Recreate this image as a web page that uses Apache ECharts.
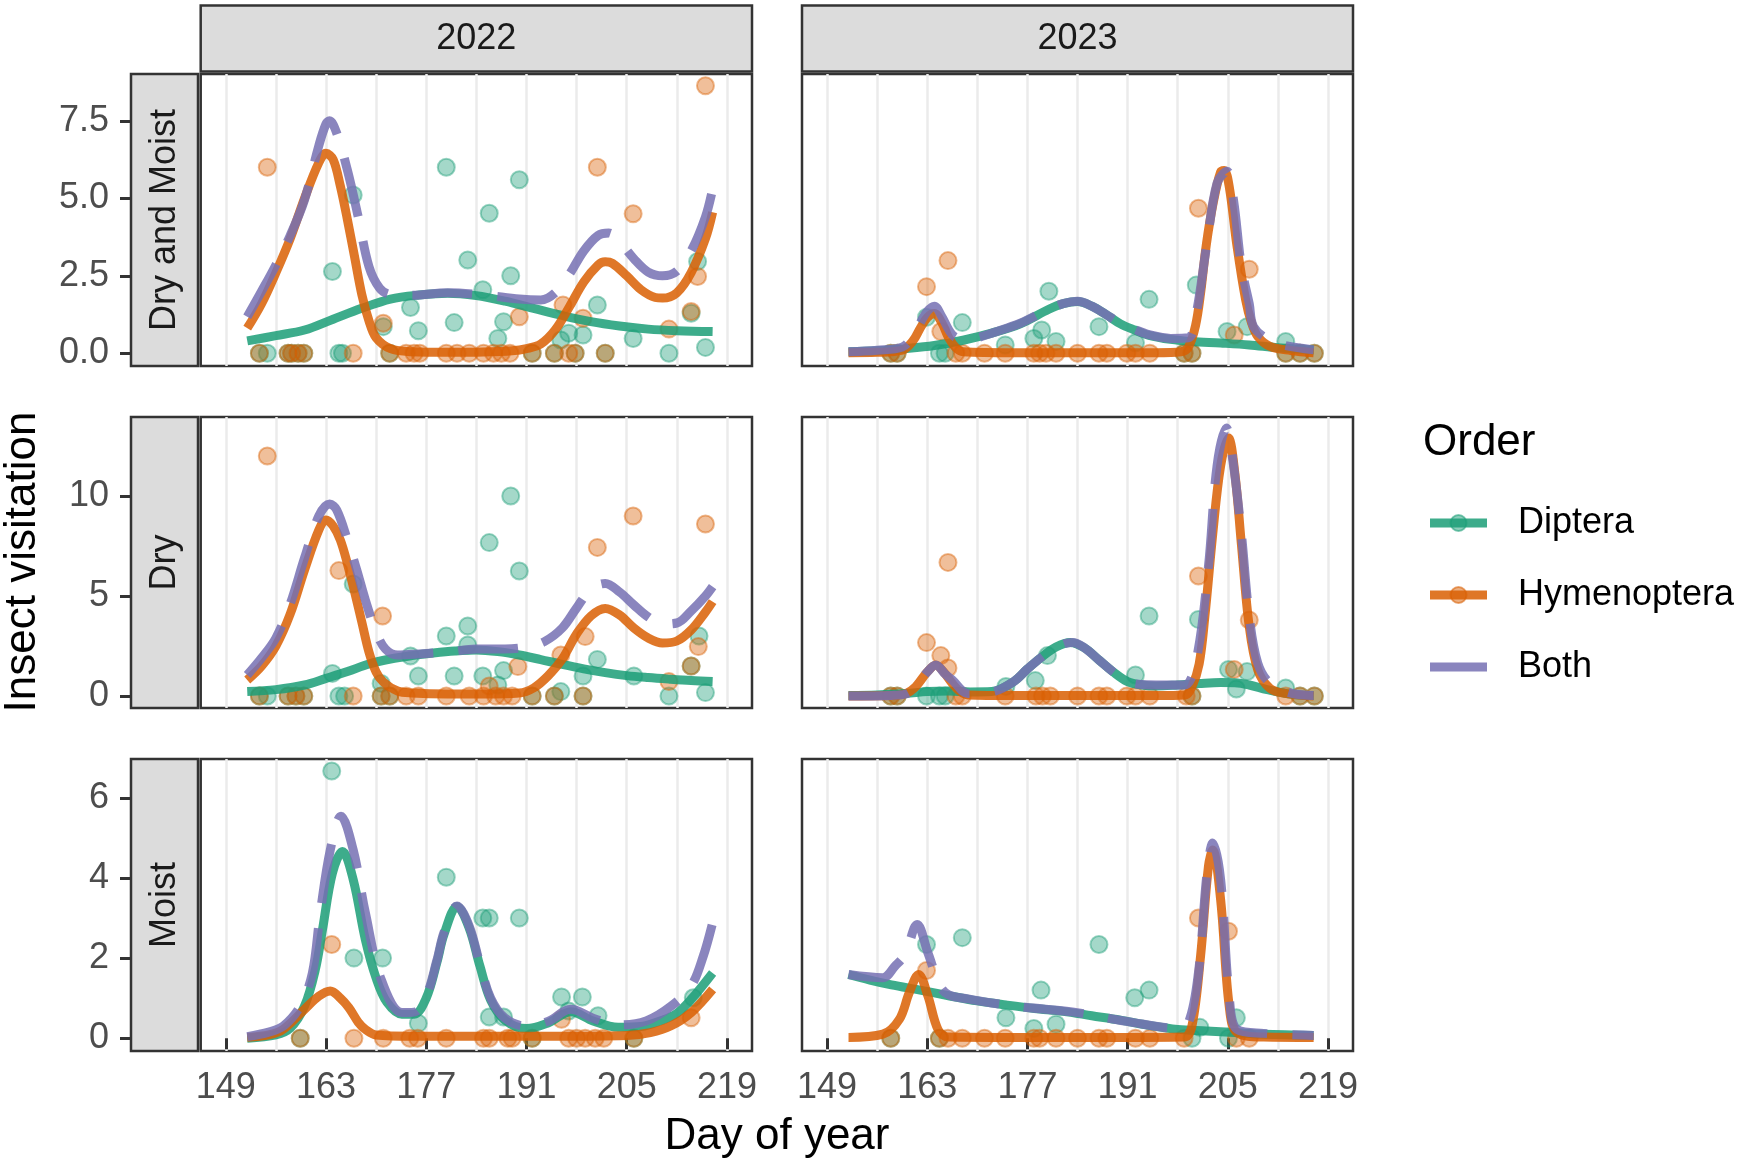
<!DOCTYPE html>
<html><head><meta charset="utf-8">
<script src="https://cdn.jsdelivr.net/npm/echarts@6.0.0/dist/echarts.min.js"></script>
<style>html,body{margin:0;padding:0;background:#fff}#c{width:1739px;height:1161px}</style>
</head><body><div id="c"></div>
<script>
// ---------------- DATA ----------------
const years = ['2022', '2023'];
const habitats = ['Dry and Moist', 'Dry', 'Moist'];
const orders = ['Diptera', 'Hymenoptera', 'Both'];
const xTicks = [149, 163, 177, 191, 205, 219];
const xGridVals = [149, 156, 163, 170, 177, 184, 191, 198, 205, 212, 219];
const yTicksDM = [0, 2.5, 5, 7.5];
const yTicksDry = [0, 5, 10];
const yTicksMoist = [0, 2, 4, 6];

// 2022 Dry and Moist
const dipPts22DM = [[153.7,0],[154.8,0],[157.7,0],[158.2,0],[159.1,0],[159.9,0],[164.8,0],[165.3,0],[171.9,0],[191.8,0],[194.9,0],[197.8,0],[202,0],[210.9,0],
  [163.9,2.64],[166.8,5.11],[171,0.86],[174.8,1.48],[175.9,0.73],[179.8,6.0],[180.9,0.99],[182.8,3.01],[184.9,2.05],[185.8,4.52],[187,0.48],[187.8,1.02],[188.8,2.5],[190,5.6],[195.8,0.43],[196.9,0.65],[198.9,0.59],[200.9,1.56],[205.9,0.48],[214,1.29],[214.9,2.96],[216,0.19]];
const hymPts22DM = [[153.7,0],[157.7,0],[158.2,0],[159.1,0],[159.9,0],[166.8,0],[171.9,0],[174.2,0],[175.3,0],[176.1,0],[179.8,0],[181.3,0],[183,0],[185,0],[186.4,0],[187.5,0],[188.7,0],[191.8,0],[194.9,0],[196.9,0],[197.8,0],[202,0],
  [154.8,6.0],[200.9,6.0],[205.9,4.5],[216,8.63],[214.9,2.48],[214,1.35],[210.9,0.78],[196.1,1.56],[190,1.18],[198.9,1.13],[171,0.97]];
const dipLine22DM = [[152,0.4],[156,0.57],[160,0.75],[164,1.1],[168,1.45],[172,1.75],[176,1.88],[180,1.94],[184,1.86],[188,1.68],[192,1.45],[196,1.22],[200,1.02],[204,0.88],[208,0.78],[212,0.73],[217,0.7]];
const hymLine22DM = [[152,0.81],[154,1.6],[156,2.6],[158,3.7],[160,5.0],[162,6.15],[163,6.45],[164,6.25],[165,5.4],[166,4.3],[167,3.1],[168,1.9],[169,1.05],[170,0.5],[172,0.15],[175,0.05],[180,0.03],[185,0.04],[189,0.08],[191,0.15],[193,0.3],[195,0.75],[197,1.5],[199,2.3],[201,2.85],[202,2.95],[203,2.9],[205,2.5],[207,2.05],[209,1.8],[210,1.78],[212,1.95],[214,2.6],[216,3.7],[217,4.55]];
const bothLine22DM = [[152,1.18],[154,2.0],[156,2.85],[158,3.8],[160,4.95],[162,6.7],[163,7.4],[163.5,7.5],[164.5,7.1],[166,5.9],[167.5,4.4],[169,2.8],[170.5,2.1],[172,1.9],[175,1.87],[180,1.95],[185,1.88],[190,1.75],[193,1.72],[195,1.95],[197,2.55],[199,3.3],[201,3.8],[202.5,3.88],[204,3.6],[206,3.05],[208,2.62],[210,2.5],[212,2.65],[214,3.3],[216,4.4],[217,5.3]];

// 2023 Dry and Moist
const dipPts23DM = [[157.9,0],[158.8,0],[164.7,0],[165.5,0],[198.9,0],[200,0],[213.1,0],[215.1,0],[217.1,0],
  [162.9,1.16],[167.9,0.99],[180,2.0],[194,1.74],[187,0.86],[179,0.75],[177.9,0.48],[181,0.38],[173.9,0.27],[200.6,2.2],[204.9,0.7],[207.7,0.86],[213.1,0.38],[192.1,0.34]];
const hymPts23DM = [[157.9,0],[158.8,0],[167,0],[167.9,0],[171,0],[173.9,0],[177.9,0],[178.7,0],[179.6,0],[181,0],[184,0],[187,0],[188.1,0],[190.9,0],[192.1,0],[194.1,0],[198.9,0],[200,0],[213.1,0],[215.1,0],[217.1,0],
  [162.9,2.15],[165.9,2.99],[164.9,0.7],[200.9,4.68],[208,2.71],[205.9,0.59]];
const dipLine23DM = [[152,0.05],[156,0.08],[160,0.15],[164,0.25],[168,0.42],[172,0.65],[176,0.95],[180,1.42],[182,1.6],[184,1.67],[186,1.52],[188,1.25],[190,0.95],[192,0.75],[194,0.58],[197,0.45],[200,0.38],[204,0.33],[208,0.27],[212,0.18],[217,0.11]];
const hymLine23DM = [[152,0.02],[156,0.03],[159.5,0.1],[161,0.4],[162,0.8],[163,1.15],[164,1.28],[165,1.0],[166,0.5],[167,0.18],[168,0.05],[175,0.02],[185,0.02],[195,0.02],[198.5,0.05],[199.5,0.2],[200.5,0.9],[201.2,1.94],[202,3.5],[203,4.9],[204,5.85],[204.5,5.9],[205.2,5.38],[206.3,3.44],[207.5,1.72],[208.3,1.0],[209.2,0.54],[210.9,0.22],[213.8,0.09],[217,0.02]];
const bothLine23DM = [[152,0.05],[156,0.1],[159.5,0.2],[161,0.55],[162,0.97],[163,1.35],[164,1.52],[165,1.2],[166.5,0.6],[168,0.45],[170,0.5],[172,0.65],[176,0.97],[180,1.42],[182,1.6],[184,1.68],[186,1.52],[188,1.25],[190,0.97],[192,0.77],[194,0.6],[197,0.48],[199.5,0.5],[200.6,1.29],[202,3.4],[203.5,5.49],[204.9,5.87],[205.8,4.95],[206.9,2.8],[208,1.6],[208.6,0.86],[210.9,0.4],[213,0.25],[217,0.11]];

// 2022 Dry
const dipPts22D = [[153.7,0],[154.8,0],[157.7,0],[158.8,0],[159.9,0],[164.8,0],[165.6,0],[170.7,0],[171.9,0],[191.8,0],[194.9,0],[198.9,0],[210.9,0],
  [166.8,5.6],[188.8,10.0],[185.8,7.67],[190,6.25],[182.8,3.5],[179.8,3.0],[182.8,2.55],[174.8,2.0],[175.9,1.0],[180.9,1.0],[184.9,1.0],[187.8,1.27],[187,0.55],[163.9,1.13],[170.7,0.63],[200.9,1.83],[198.9,1.0],[206,1.0],[195.8,0.22],[215.1,3.0],[216,0.17],[214,1.5]];
const hymPts22D = [[153.7,0],[157.7,0],[158.8,0],[159.9,0],[166.8,0],[170.7,0],[171.9,0],[174.2,0],[175.9,0],[179.8,0],[183,0],[185,0],[186.7,0],[187.8,0],[189,0],[191.8,0],[194.9,0],[198.9,0],
  [154.8,12.0],[164.8,6.27],[170.9,4.0],[200.9,7.43],[205.9,9.0],[216,8.6],[199.2,2.97],[195.8,2.05],[189.8,1.47],[215,2.47],[214,1.5],[210.9,0.72],[185.8,0.5]];
const dipLine22D = [[152,0.22],[156,0.32],[160,0.55],[163,0.88],[166,1.22],[169,1.6],[172,1.85],[175,2.02],[178,2.15],[181,2.25],[184,2.3],[187,2.22],[190,2.05],[193,1.82],[196,1.58],[199,1.36],[202,1.17],[205,1.02],[208,0.92],[211,0.84],[214,0.77],[217,0.72]];
const hymLine22D = [[152,0.8],[154,1.5],[156,2.5],[158,4.1],[160,6.3],[162,8.3],[163,8.8],[164,8.5],[165,7.8],[166,6.6],[167,5.2],[168,3.7],[169,2.2],[170,1.2],[171,0.7],[173,0.25],[175,0.15],[180,0.1],[185,0.1],[190,0.15],[192,0.4],[194,1.0],[196,1.85],[198,3.1],[200,4.0],[202,4.38],[204,4.05],[206,3.4],[208,2.9],[210,2.65],[212,2.75],[214,3.3],[216,4.2],[217,4.72]];
const bothLine22D = [[152,1.05],[154,1.9],[156,2.9],[158,4.6],[160,6.9],[162,9.0],[163.5,9.6],[164.5,9.3],[166,7.8],[167.3,6.3],[168.5,4.8],[170,3.2],[171.3,2.35],[173,2.05],[176,2.1],[180,2.2],[184,2.35],[188,2.35],[191,2.45],[193.5,2.72],[196,3.4],[198,4.4],[200,5.35],[202,5.63],[204,5.2],[206,4.55],[208,3.95],[210,3.6],[212,3.65],[214,4.25],[216,5.0],[217,5.47]];

// 2023 Dry
const dipPts23D = [[157.9,0],[158.8,0],[162.9,0],[164.7,0],[165.5,0],[200,0],[215.1,0],[217.1,0],
  [194,4.0],[200.9,3.83],[179.8,2.02],[178.1,0.77],[192.1,1.05],[205.1,1.33],[207.7,1.22],[206.2,0.35],[174,0.48],[213.1,0.4]];
const hymPts23D = [[157.9,0],[158.8,0],[167,0],[167.9,0],[173.9,0],[178.2,0],[179.1,0],[180.2,0],[184,0],[187,0],[188.1,0],[190.9,0],[192.1,0],[194.1,0],[199.2,0],[200,0],[213.1,0],[215.1,0],[217.1,0],
  [162.9,2.67],[164.9,2.02],[165.9,6.68],[165.9,1.4],[200.9,6.0],[208,3.8],[205.9,1.33]];
const dipLine23D = [[152,0.02],[156,0.05],[160,0.12],[163,0.22],[166,0.25],[169,0.2],[172,0.22],[175,0.7],[177,1.35],[179,1.95],[181,2.45],[183,2.68],[185,2.4],[187,1.8],[189,1.2],[191,0.72],[193,0.55],[195,0.5],[198,0.55],[201,0.62],[204,0.67],[206,0.66],[208,0.55],[210.5,0.32],[214,0.08],[217,0.03]];
const hymLine23D = [[152,0.0],[158,0.02],[160,0.12],[161.4,0.47],[163,1.2],[164.2,1.55],[165.3,1.2],[166.5,0.63],[167.5,0.25],[168.7,0.05],[175,0.02],[185,0.02],[195,0.02],[199,0.05],[200,0.47],[201,1.6],[201.8,3.97],[202.9,8.1],[204,11.5],[205.1,12.9],[206,11.1],[206.9,7.6],[208,3.47],[209.2,1.3],[210.9,0.38],[213,0.13],[217,0.0]];
const bothLine23D = [[152,0.0],[158,0.03],[160,0.1],[161.6,0.55],[163,1.2],[164.2,1.55],[165.5,1.1],[166.5,0.8],[168.7,0.13],[172,0.2],[175,0.7],[177,1.35],[179,1.95],[181,2.45],[183.3,2.68],[185,2.4],[187,1.8],[189,1.2],[191,0.72],[193,0.57],[195,0.55],[198.9,0.55],[200.6,1.8],[202.3,6.47],[203.5,11.5],[204.8,13.4],[205.7,11.8],[206.9,8.13],[208,3.97],[209.2,1.63],[210.9,0.63],[214,0.13],[217,0.03]];

// 2022 Moist
const dipPts22M = [[159.4,0],[191.8,0],[206,0],
  [163.8,6.67],[179.8,4.02],[184.9,3.0],[185.8,3.0],[190,3.0],[166.9,2.0],[170.9,2.0],[175.9,0.37],[195.9,1.03],[198.8,1.03],[185.8,0.53],[187.8,0.53],[201,0.56],[196.9,0.68],[214.3,1.01]];
const hymPts22M = [[159.4,0],[166.9,0],[171,0],[174.7,0],[175.8,0],[179.8,0],[185,0],[185.8,0],[188.4,0],[189,0],[191.8,0],[196.9,0],[198,0],[199.2,0],[200.6,0],[201.8,0],[206,0],
  [163.8,2.34],[195.9,0.47],[214,0.51]];
const dipLine22M = [[152,0.0],[156,0.08],[158,0.25],[160,0.8],[161.5,1.7],[162.5,2.7],[163.9,4.12],[165.3,4.66],[166.8,3.96],[168.5,2.46],[170,1.5],[171.5,0.9],[173.6,0.6],[175.3,0.6],[177,1.0],[178.5,1.9],[179.5,2.6],[181.3,3.29],[183,2.75],[184.5,1.8],[186,0.95],[188,0.45],[191,0.24],[194,0.38],[197.2,0.66],[200.3,0.43],[203.8,0.27],[207,0.29],[210,0.45],[212,0.62],[214,0.97],[217,1.63]];
const hymLine22M = [[152,0.02],[155,0.08],[157,0.22],[160,0.72],[162,1.05],[163.6,1.18],[165,1.0],[166.2,0.76],[167.5,0.4],[168.5,0.22],[170,0.08],[175,0.05],[185,0.05],[195,0.05],[205,0.07],[208.3,0.14],[211.2,0.31],[214,0.64],[217,1.22]];
const bothLine22M = [[152,0.04],[155,0.15],[157.1,0.31],[159.4,0.8],[161.1,1.63],[162.2,3.13],[163.6,4.7],[165.1,5.54],[166.8,4.7],[168.5,3.13],[170.7,1.47],[173.6,0.64],[175.3,0.65],[177,1.05],[178.5,1.95],[179.5,2.65],[181.3,3.3],[183,2.8],[184.5,1.85],[186,1.0],[188,0.5],[191,0.3],[194,0.42],[197.2,0.72],[200.3,0.5],[203.8,0.33],[207.7,0.43],[211.2,0.8],[214,1.3],[215.7,2.05],[217,2.88]];

// 2023 Moist
const dipPts23M = [[157.9,0],[164.7,0],[200,0],[205.1,0],
  [162.9,2.34],[167.9,2.51],[187,2.34],[178.9,1.2],[194,1.2],[192,1.01],[174,0.51],[181,0.35],[177.9,0.24],[206.2,0.51],[201.1,0.27]];
const hymPts23M = [[157.9,0],[164.7,0],[165.9,0],[167.9,0],[171,0],[173.9,0],[177.9,0],[178.7,0],[181,0],[184,0],[187,0],[188.1,0],[192.1,0],[194.1,0],[198.9,0],[206.2,0],[208,0],
  [162.9,1.69],[200.9,3.0],[205.1,2.67]];
const dipLine23M = [[152,1.59],[155,1.45],[158,1.33],[162,1.2],[166,1.06],[170,0.93],[174,0.83],[178,0.74],[182,0.67],[186,0.56],[190,0.45],[194,0.32],[198,0.22],[202,0.18],[206,0.14],[210,0.1],[217,0.07]];
const hymLine23M = [[152,0.02],[156.8,0.1],[159.1,0.47],[160.5,1.14],[161.8,1.59],[163.1,1.05],[164.5,0.22],[165.9,0.03],[175,0.02],[190,0.02],[198.9,0.03],[200,0.31],[201.2,2.05],[202.3,4.29],[202.9,4.7],[204,3.46],[205.2,0.8],[206.3,0.14],[210,0.03],[217,0.02]];
const bothLine23M = [[152,1.59],[156.8,1.51],[158.5,1.8],[159.9,2.09],[161.6,2.84],[163.1,2.13],[164.8,1.3],[166,1.08],[168.7,0.98],[172,0.88],[176.7,0.77],[183.5,0.65],[191.5,0.4],[197.8,0.25],[199.5,0.39],[200.9,1.63],[202.1,4.12],[202.9,4.87],[204,3.96],[205.2,1.05],[206.3,0.22],[210,0.12],[217,0.07]];

// ---------------- LAYOUT / STYLE ----------------
const FONT = 'Liberation Sans, Arial, sans-serif';
const cols = [{ left: 200.7, width: 551.3 }, { left: 802, width: 551 }];
const rows = [{ top: 74, height: 292 }, { top: 417, height: 291 }, { top: 759, height: 292 }];
const yRanges = [[-0.41, 9.01], [-0.6, 13.95], [-0.32, 6.97]];
const yTickSets = [yTicksDM, yTicksDry, yTicksMoist];
const yFmt = [v => v.toFixed(1), v => String(v), v => String(v)];
const COL = { dip: [27, 158, 119], hym: [217, 95, 2], both: [117, 112, 179] };
const rgba = (c, a) => `rgba(${c[0]},${c[1]},${c[2]},${a})`;
const LINE_W = 9;
const PT_SIZE = 17;

const panels = [
  [dipPts22DM, hymPts22DM, dipLine22DM, hymLine22DM, bothLine22DM],
  [dipPts23DM, hymPts23DM, dipLine23DM, hymLine23DM, bothLine23DM],
  [dipPts22D, hymPts22D, dipLine22D, hymLine22D, bothLine22D],
  [dipPts23D, hymPts23D, dipLine23D, hymLine23D, bothLine23D],
  [dipPts22M, hymPts22M, dipLine22M, hymLine22M, bothLine22M],
  [dipPts23M, hymPts23M, dipLine23M, hymLine23M, bothLine23M]
];

const grid = [], xAxis = [], yAxis = [], series = [], graphic = [];

for (let r = 0; r < 3; r++) {
  for (let c = 0; c < 2; c++) {
    const g = r * 2 + c;
    grid.push({ left: cols[c].left, top: rows[r].top, width: cols[c].width, height: rows[r].height,
      show: true, borderColor: '#333333', borderWidth: 2.5, backgroundColor: 'transparent', containLabel: false });
    xAxis.push({ gridIndex: g, type: 'value', min: 145.5, max: 222.5, position: 'bottom',
      axisLine: { show: false },
      axisTick: { show: r === 2, customValues: xTicks, length: 11, lineStyle: { color: '#333333', width: 3 } },
      axisLabel: { show: r === 2, customValues: xTicks, margin: 19, fontSize: 36, color: '#4D4D4D', fontFamily: FONT },
      splitLine: { show: false } });
    xAxis.push({ gridIndex: g, type: 'value', min: 145.5, max: 222.5, position: 'top',
      axisLine: { show: false }, axisTick: { show: false, customValues: xGridVals },
      axisLabel: { show: false, customValues: xGridVals },
      splitLine: { show: true, lineStyle: { color: '#EBEBEB', width: 2.5 } } });
    yAxis.push({ gridIndex: g, type: 'value', min: yRanges[r][0], max: yRanges[r][1], position: 'left',
      offset: c === 0 ? (cols[0].left - 131) : 0,
      axisLine: { show: false },
      axisTick: { show: c === 0, customValues: yTickSets[r], length: 11, lineStyle: { color: '#333333', width: 3 } },
      axisLabel: { show: c === 0, customValues: yTickSets[r], formatter: yFmt[r], margin: 22, fontSize: 36, color: '#4D4D4D', fontFamily: FONT },
      splitLine: { show: false } });

    const [dp, hp, dl, hl, bl] = panels[g];
    const xi = g * 2;
    const pt = (data, col, name) => ({ type: 'scatter', name, xAxisIndex: xi, yAxisIndex: g, data, symbol: 'circle', symbolSize: PT_SIZE, z: 2,
      itemStyle: { color: rgba(col, 0.5), borderColor: rgba(col, 0.55), borderWidth: 2 } });
    const ln = (data, col, name, dash) => ({ type: 'line', name, xAxisIndex: xi, yAxisIndex: g, data, showSymbol: false, symbol: 'none', smooth: 0.35, z: 3,
      lineStyle: { color: rgba(col, 0.85), width: LINE_W, type: dash ? [60, 25] : 'solid', cap: 'butt', join: 'round' } });
    series.push(pt(dp, COL.dip, 'Diptera'));
    series.push(pt(hp, COL.hym, 'Hymenoptera'));
    series.push(ln(dl, COL.dip, 'Diptera'));
    series.push(ln(hl, COL.hym, 'Hymenoptera'));
    series.push(ln(bl, COL.both, 'Both', true));
  }
}

const txt = (text, x, y, size, fill, opts = {}) => Object.assign({
  type: 'text', x, y, silent: true,
  style: { text, fontSize: size, fontFamily: FONT, fill, align: opts.align || 'center', verticalAlign: 'middle',
    textAlign: opts.align || 'center', textVerticalAlign: 'middle' }
}, opts.rotation ? { rotation: opts.rotation } : {});

// column strips
for (let c = 0; c < 2; c++) {
  graphic.push({ type: 'rect', shape: { x: cols[c].left, y: 5.5, width: cols[c].width, height: 66 },
    style: { fill: '#DCDCDC', stroke: '#333333', lineWidth: 2.5 }, silent: true });
  graphic.push(txt(years[c], cols[c].left + cols[c].width / 2, 39, 36, '#1A1A1A'));
}
// row strips
for (let r = 0; r < 3; r++) {
  graphic.push({ type: 'rect', shape: { x: 131, y: rows[r].top, width: 67, height: rows[r].height },
    style: { fill: '#DCDCDC', stroke: '#333333', lineWidth: 2.5 }, silent: true });
  graphic.push(txt(habitats[r], 165, rows[r].top + rows[r].height / 2, 36, '#1A1A1A', { rotation: Math.PI / 2 }));
}
// axis titles
graphic.push(txt('Insect visitation', 23, 562, 44, '#000000', { rotation: Math.PI / 2 }));
graphic.push(txt('Day of year', 777, 1137, 44, '#000000'));
// legend
graphic.push(txt('Order', 1423, 443, 44, '#000000', { align: 'left' }));
const legendY = [523, 595, 667];
const legendCols = [COL.dip, COL.hym, COL.both];
for (let i = 0; i < 3; i++) {
  graphic.push({ type: 'line', shape: { x1: 1430, y1: legendY[i], x2: 1487, y2: legendY[i] },
    style: { stroke: rgba(legendCols[i], 0.85), lineWidth: LINE_W }, silent: true });
  if (i < 2) {
    graphic.push({ type: 'circle', shape: { cx: 1458.5, cy: legendY[i], r: 8 },
      style: { fill: rgba(legendCols[i], 0.5), stroke: rgba(legendCols[i], 0.55), lineWidth: 2 }, silent: true });
  }
  graphic.push(txt(orders[i], 1518, legendY[i], 36, '#000000', { align: 'left' }));
}

const chart = echarts.init(document.getElementById('c'), null, { renderer: 'canvas' });
chart.setOption({ animation: false, backgroundColor: '#ffffff', grid, xAxis, yAxis, series, graphic });
</script></body></html>
